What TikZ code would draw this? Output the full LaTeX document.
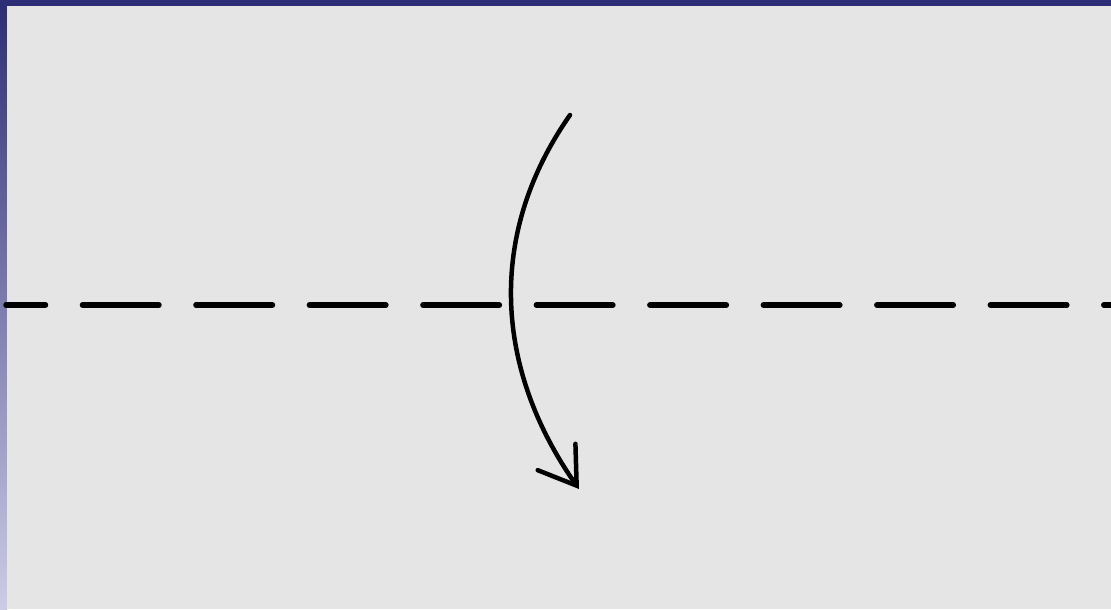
\documentclass[tikz,border=0pt]{standalone}
\usepackage[dvipsnames,svgnames,x11names]{xcolor}
\usepackage{tikz}
\usetikzlibrary{arrows.meta,positioning}

\definecolor{slidenavy}{RGB}{46,46,118}
\definecolor{slidelilac}{RGB}{204,204,230}
\definecolor{paper}{RGB}{230,229,230}

\begin{document}
\begin{tikzpicture}[
  x=0.02cm, y=-0.02cm,
  paperbox/.style={fill=paper, draw=none},
  foldline/.style={draw=black, line width=0.11cm, line cap=round, dash pattern=on 1.53cm off 0.74cm, dash phase=0.74cm},
  turnarrow/.style={draw=black, line width=0.09cm, line cap=round, -{Straight Barb[length=0.7cm, width=0.92cm, line cap=round]}}
]
  \useasboundingbox (0,0) rectangle (1111,609);

  % slide frame and paper
  \fill[slidenavy] (0,0) rectangle (1111,6);
  \shade[top color=slidenavy, bottom color=slidelilac] (0,6) rectangle (7,609);
  \path[paperbox] (7,6) rectangle (1111,609);

  % fold line
  \coordinate (foldL) at (6,305);
  \coordinate (foldR) at (1111,305);
  \draw[foldline] (foldL) -- (foldR);

  % turn over
  \coordinate (turnA) at (570,115);
  \coordinate (turnB) at (579,489);
  \draw[turnarrow] (turnA) to[out=235, in=125] (turnB);
\end{tikzpicture}
\end{document}
